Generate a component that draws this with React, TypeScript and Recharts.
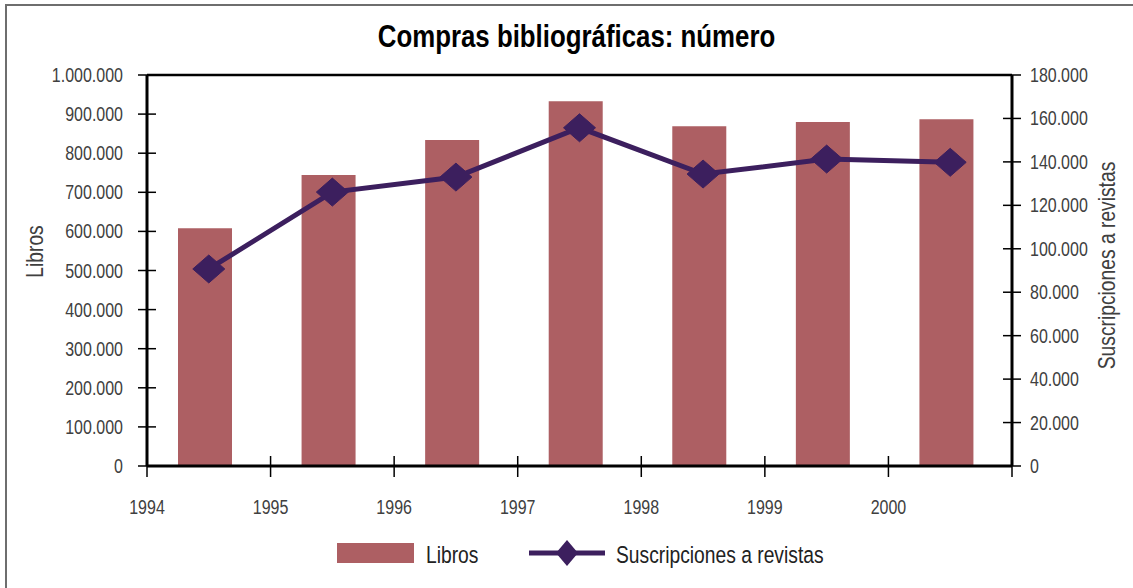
import React from 'react';
import { ComposedChart, Bar, Line, XAxis, YAxis, ReferenceLine, Legend } from 'recharts';

const years = ['1994', '1995', '1996', '1997', '1998', '1999', '2000'];
const yearPositions = [1994.5, 1995.5, 1996.5, 1997.5, 1998.5, 1999.5, 2000.5];
const libros = [608000, 744000, 834000, 933000, 869000, 880000, 887000];
const revistas = [90700, 126100, 133000, 155700, 134400, 141300, 139800];
const xTicks = [1994, 1995, 1996, 1997, 1998, 1999, 2000, 2001];
const xTickLabels = ['1994', '1995', '1996', '1997', '1998', '1999', '2000', ''];
const leftTicks = [0, 100000, 200000, 300000, 400000, 500000, 600000, 700000, 800000, 900000, 1000000];
const rightTicks = [0, 20000, 40000, 60000, 80000, 100000, 120000, 140000, 160000, 180000];

const data = years.map((y, i) => ({ year: y, pos: yearPositions[i], libros: libros[i], revistas: revistas[i] }));

const BAR_COLOR = '#AD5F63';
const LINE_COLOR = '#3C1F5E';
const FONT = '"Liberation Sans", Arial, sans-serif';
const TEXT_COLOR = '#404040';
const NARROW = 0.82;

const fmt = (v: number) => String(v).replace(/\B(?=(\d{3})+(?!\d))/g, '.');

const NText = (props: any) => {
  const { x, y, anchor = 'start', size = 19.5, rotate = 0, fill = TEXT_COLOR, weight = 'normal', children } = props;
  return (
    <text
      x={0}
      y={0}
      transform={`translate(${x},${y}) rotate(${rotate}) scale(${NARROW},1)`}
      textAnchor={anchor}
      fontFamily={FONT}
      fontSize={size}
      fontWeight={weight}
      fill={fill}
    >
      {children}
    </text>
  );
};

const LeftTick = (props: any) => {
  const { x, y, payload } = props;
  return (
    <g>
      <line x1={x + 15} x2={x + 33} y1={y} y2={y} stroke="#000" strokeWidth={1.5} />
      <NText x={x} y={y + 7} anchor="end">{fmt(payload.value)}</NText>
    </g>
  );
};

const RightTick = (props: any) => {
  const { x, y, payload } = props;
  return (
    <g>
      <line x1={x - 27} x2={x - 9} y1={y} y2={y} stroke="#000" strokeWidth={1.5} />
      <NText x={x} y={y + 7} anchor="start">{fmt(payload.value)}</NText>
    </g>
  );
};

const BottomTick = (props: any) => {
  const { x, y, payload } = props;
  const idx = xTicks.indexOf(payload.value);
  const label = idx >= 0 ? xTickLabels[idx] : '';
  return (
    <g>
      <line x1={x} x2={x} y1={y - 21} y2={y} stroke="#000" strokeWidth={1.5} />
      {label ? <NText x={x} y={y + 37} anchor="middle">{label}</NText> : null}
    </g>
  );
};

const Diamond = (props: any) => {
  const { cx, cy, index } = props;
  if (cx == null || cy == null) return <g key={index} />;
  const w = 16;
  const h = 14;
  return (
    <polygon
      key={index}
      points={`${cx - w},${cy} ${cx},${cy - h} ${cx + w},${cy} ${cx},${cy + h}`}
      fill={LINE_COLOR}
      stroke={LINE_COLOR}
    />
  );
};

const LeftLabel = (props: any) => {
  const { viewBox } = props;
  const cy = viewBox.y + viewBox.height / 2 - 19;
  const x = viewBox.x + 43;
  return <NText x={x} y={cy} rotate={-90} anchor="middle" size={23.5}>Libros</NText>;
};

const RightLabel = (props: any) => {
  const { viewBox } = props;
  const cy = viewBox.y + viewBox.height / 2 - 5;
  const x = viewBox.x + 103;
  return <NText x={x} y={cy} rotate={-90} anchor="middle" size={23.5}>Suscripciones a revistas</NText>;
};

const LegendContent = () => (
  <svg width={1133} height={50} style={{ display: 'block' }}>
    <rect x={337} y={13} width={77} height={20} fill={BAR_COLOR} />
    <NText x={426} y={33} size={23.5} fill="#222">Libros</NText>
    <line x1={529} x2={605} y1={23} y2={23} stroke={LINE_COLOR} strokeWidth={5} />
    <polygon points={`${556},23 ${567},10 ${578},23 ${567},36`} fill={LINE_COLOR} />
    <NText x={616} y={33} size={23.5} fill="#222">Suscripciones a revistas</NText>
  </svg>
);

export default function App() {
  return (
    <div style={{ position: 'absolute', left: 0, top: 0, width: 1133, height: 588, overflow: 'hidden', background: '#fff' }}>
      <div style={{ position: 'absolute', left: 5, top: 4, width: 1300, height: 800, borderLeft: '2px solid #6e6e6e', borderTop: '2px solid #6e6e6e' }} />
      <div style={{ position: 'absolute', left: 0, top: 0 }}>
        <ComposedChart width={1133} height={588} data={data} margin={{ top: 75, right: 0, bottom: 0, left: 0 }}>
          <XAxis xAxisId="cat" dataKey="year" type="category" hide height={0} />
          <XAxis xAxisId="bar" dataKey="year" type="category" hide height={0} padding={{ left: -4, right: 4 }} />
          <XAxis
            xAxisId="yr"
            dataKey="pos"
            type="number"
            domain={[1994, 2001]}
            ticks={xTicks}
            interval={0}
            height={122}
            tickSize={11}
            tickMargin={0}
            tickLine={false}
            tick={<BottomTick />}
            axisLine={{ stroke: '#000', strokeWidth: 3 }}
          />
          <YAxis
            yAxisId="left"
            orientation="left"
            width={147}
            domain={[0, 1000000]}
            ticks={leftTicks}
            interval={0}
            tickSize={9}
            tickMargin={15}
            tickLine={false}
            tick={<LeftTick />}
            axisLine={{ stroke: '#000', strokeWidth: 3 }}
            label={<LeftLabel />}
          />
          <YAxis
            yAxisId="right"
            orientation="right"
            width={121}
            domain={[0, 180000]}
            ticks={rightTicks}
            interval={0}
            tickSize={9}
            tickMargin={9}
            tickLine={false}
            tick={<RightTick />}
            axisLine={{ stroke: '#000', strokeWidth: 3 }}
            label={<RightLabel />}
          />
          <ReferenceLine yAxisId="left" xAxisId="yr" y={1000000} stroke="#000" strokeWidth={2.5} />
          <Bar xAxisId="bar" yAxisId="left" dataKey="libros" name="Libros" fill={BAR_COLOR} barSize={54} isAnimationActive={false} />
          <Line
            xAxisId="cat"
            yAxisId="right"
            dataKey="revistas"
            name="Suscripciones a revistas"
            type="linear"
            stroke={LINE_COLOR}
            strokeWidth={5}
            dot={<Diamond />}
            activeDot={false}
            isAnimationActive={false}
          />
          <Legend
            layout="horizontal"
            verticalAlign="middle"
            align="center"
            wrapperStyle={{ top: 530, left: 0, width: 1133, height: 50 }}
            content={<LegendContent />}
          />
          <NText x={576.5} y={47} anchor="middle" size={31.5} weight="bold" fill="#000">Compras bibliográficas: número</NText>
        </ComposedChart>
      </div>
    </div>
  );
}
